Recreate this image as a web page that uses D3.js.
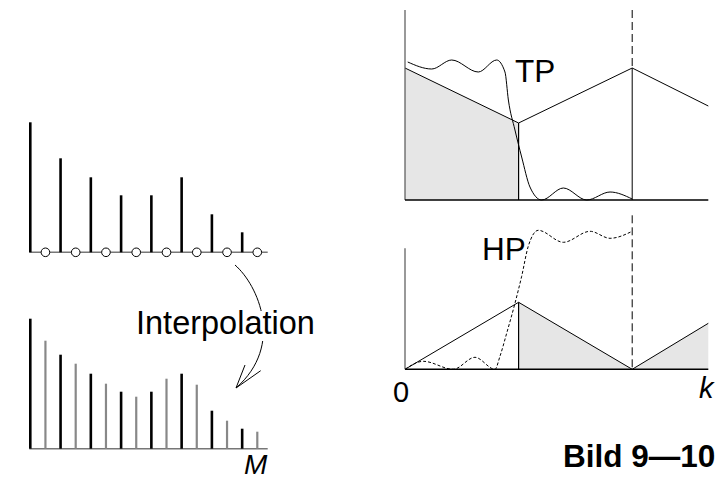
<!DOCTYPE html>
<html>
<head>
<meta charset="utf-8">
<script src="https://cdn.jsdelivr.net/npm/d3@7"></script>
<style>
  body { margin: 0; background: #fff; }
  text { font-family: "Liberation Sans", Arial, sans-serif; }
</style>
</head>
<body>
<div id="chart"></div>
<script>
// original samples (black) and interpolated samples (grey) between them
const origSamples = [130, 94, 75, 57, 57, 75, 38, 20];
const interpSamples = [108, 85, 65, 52, 70, 64, 28, 17];

// spectra: [frequency (1 = pi), amplitude]
const lowSpectrum = [[0, 132], [1, 77], [2, 132], [2.67, 94]];
const highSpectrum = [[0, 0], [1, 67], [2, 0], [2.67, 46]];

// filter responses
const tpResponse = [[0.024, 138], [0.235, 131], [0.411, 140], [0.645, 128], [0.807, 140],
    [0.88, 128], [0.91, 100], [0.968, 70], [1.027, 43], [1.1, 13], [1.203, 0],
    [1.394, 12], [1.6, 0], [1.805, 8], [2.0, 1]];
const hpResponse = [[0, 0], [0.161, 8], [0.425, 0], [0.616, 12], [0.792, 0],
    [0.836, 13], [0.895, 36], [0.968, 66], [1.027, 93], [1.085, 123], [1.173, 139],
    [1.394, 127], [1.629, 138], [1.805, 131], [2.0, 138]];

const cutoff = 1;
const mirror = 2;

function main(){
    let width = 725;
    let height = 480;

    let svg = d3.select("#chart").append("svg")
        .attr("width", width)
        .attr("height", height);

    // ---------- left: sample sequences ----------
    let xIdx = d3.scaleLinear().domain([0, 15]).range([30.3, 257.3]);
    let yTopL = d3.scaleLinear().domain([0, 130]).range([252.3, 122.3]);
    let yBotL = d3.scaleLinear().domain([0, 130]).range([448.7, 318.7]);

    let top = svg.append("g");
    top.append("line")
        .attr("x1", 29.3).attr("x2", 267.7)
        .attr("y1", yTopL(0)).attr("y2", yTopL(0))
        .style("stroke", "#777").style("stroke-width", 1.5);
    top.selectAll(".stem")
        .data(origSamples)
        .enter()
        .append("line")
        .attr("x1", function(d, i){ return xIdx(2 * i); })
        .attr("x2", function(d, i){ return xIdx(2 * i); })
        .attr("y1", yTopL(0))
        .attr("y2", function(d){ return yTopL(d); })
        .style("stroke", "black").style("stroke-width", 2.6);
    top.selectAll("circle")
        .data(origSamples)
        .enter()
        .append("circle")
        .attr("cx", function(d, i){ return xIdx(2 * i + 1); })
        .attr("cy", yTopL(0))
        .attr("r", 4.3)
        .style("fill", "white").style("stroke", "black").style("stroke-width", 1);

    let bottom = svg.append("g");
    bottom.append("line")
        .attr("x1", 29.3).attr("x2", 267.7)
        .attr("y1", yBotL(0)).attr("y2", yBotL(0))
        .style("stroke", "#777").style("stroke-width", 1.5);
    let merged = [];
    for(let i = 0; i < origSamples.length; i++){
        merged.push({v: origSamples[i], orig: true});
        merged.push({v: interpSamples[i], orig: false});
    }
    bottom.selectAll(".stem")
        .data(merged)
        .enter()
        .append("line")
        .attr("x1", function(d, i){ return xIdx(i); })
        .attr("x2", function(d, i){ return xIdx(i); })
        .attr("y1", yBotL(0))
        .attr("y2", function(d){ return yBotL(d.v); })
        .style("stroke", function(d){ return d.orig ? "black" : "#888"; })
        .style("stroke-width", function(d){ return d.orig ? 2.6 : 2.2; });

    svg.append("text")
        .attr("x", 244).attr("y", 474)
        .attr("font-size", 28).attr("font-style", "italic")
        .text("M");

    // arrow
    svg.append("path")
        .attr("d", "M235,265 C258,285 285,345 236,388")
        .style("fill", "none").style("stroke", "black").style("stroke-width", 1);
    svg.append("path")
        .attr("d", "M245,365 L236,388 L260.7,370.7")
        .style("fill", "none").style("stroke", "black").style("stroke-width", 1);
    svg.append("rect")
        .attr("x", 137).attr("y", 311).attr("width", 182).attr("height", 30)
        .style("fill", "white");
    svg.append("text")
        .attr("x", 136).attr("y", 333.5)
        .attr("font-size", 32.5)
        .text("Interpolation");

    // ---------- right: spectra ----------
    let xF = d3.scaleLinear().domain([0, 2.67]).range([405, 708.3]);
    let yTopR = d3.scaleLinear().domain([0, 190]).range([200, 10]);
    let yBotR = d3.scaleLinear().domain([0, 154]).range([369.3, 215.3]);

    function panel(yS, spectrum, fillFrom, fillTo, response, dashed, axisTop){
        let g = svg.append("g");
        let seg = spectrum.filter(function(p){ return p[0] >= fillFrom && p[0] <= fillTo; });
        let area = d3.area()
            .x(function(p){ return xF(p[0]); })
            .y0(yS(0))
            .y1(function(p){ return yS(p[1]); });
        g.append("path")
            .attr("d", area(seg))
            .style("fill", "#e6e6e6");

        // dashed line at 2*pi
        let peakAtMirror = spectrum.find(function(p){ return p[0] === mirror; })[1];
        g.append("line")
            .attr("x1", xF(mirror)).attr("x2", xF(mirror))
            .attr("y1", yS(axisTop.dashTop)).attr("y2", yS(peakAtMirror))
            .style("stroke", "black").style("stroke-width", 1)
            .style("stroke-dasharray", "8,4");
        if(peakAtMirror > 0){
            g.append("line")
                .attr("x1", xF(mirror)).attr("x2", xF(mirror))
                .attr("y1", yS(peakAtMirror)).attr("y2", yS(0))
                .style("stroke", "black").style("stroke-width", 1);
        }

        // cutoff edge
        let atCut = spectrum.find(function(p){ return p[0] === cutoff; })[1];
        g.append("line")
            .attr("x1", xF(cutoff)).attr("x2", xF(cutoff))
            .attr("y1", yS(0)).attr("y2", yS(atCut))
            .style("stroke", "black").style("stroke-width", 1.2);

        let line = d3.line()
            .x(function(p){ return xF(p[0]); })
            .y(function(p){ return yS(p[1]); });
        g.append("path")
            .attr("d", line(spectrum))
            .style("fill", "none").style("stroke", "black").style("stroke-width", 1);

        let resp = d3.line()
            .x(function(p){ return xF(p[0]); })
            .y(function(p){ return yS(p[1]); })
            .curve(d3.curveMonotoneX);
        g.append("path")
            .attr("d", resp(response))
            .style("fill", "none").style("stroke", "black").style("stroke-width", 1)
            .style("stroke-dasharray", dashed ? "3,2" : null);

        // axes
        g.append("line")
            .attr("x1", xF(0)).attr("x2", xF(0))
            .attr("y1", yS(0)).attr("y2", yS(axisTop.y))
            .style("stroke", "#555").style("stroke-width", 1.2);
        g.append("line")
            .attr("x1", xF(0)).attr("x2", xF(2.67))
            .attr("y1", yS(0)).attr("y2", yS(0))
            .style("stroke", "black").style("stroke-width", 1.5);
        return g;
    }

    panel(yTopR, lowSpectrum, 0, cutoff, tpResponse, false, {y: 190, dashTop: 190});
    panel(yBotR, highSpectrum, cutoff, 2.67, hpResponse, true, {y: 121, dashTop: 154});

    svg.append("text").attr("x", 515).attr("y", 81.7).attr("font-size", 31.5).text("TP");
    svg.append("text").attr("x", 482).attr("y", 260).attr("font-size", 31.5).text("HP");
    svg.append("text").attr("x", 401).attr("y", 402).attr("font-size", 29)
        .attr("text-anchor", "middle").text("0");
    svg.append("text").attr("x", 699).attr("y", 398).attr("font-size", 29)
        .attr("font-style", "italic").text("k");
    svg.append("text").attr("x", 563).attr("y", 466.7).attr("font-size", 31.5)
        .attr("font-weight", "bold").text("Bild 9\u201410");
}

main();
</script>
</body>
</html>
